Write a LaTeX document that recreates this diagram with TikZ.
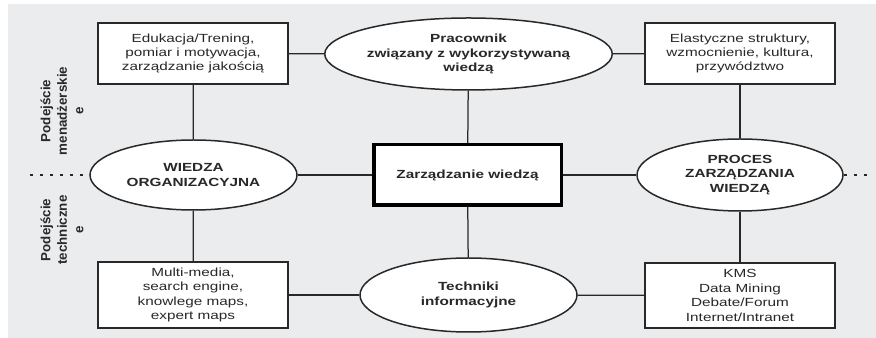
\documentclass[tikz,border=0pt]{standalone}
\usepackage{fontspec}
\setmainfont[FakeStretch=1.3]{Liberation Sans}
\newfontfamily\sidefont{Liberation Sans}
\usetikzlibrary{positioning,shapes}
\definecolor{panelgray}{RGB}{235,236,238}
\definecolor{inkgray}{RGB}{40,40,40}

\begin{document}
\begin{tikzpicture}[
        box/.style={rectangle, draw=inkgray, fill=white, line width=0.03cm, minimum width=3.8cm, align=center, inner sep=0pt, text=inkgray, font=\fontsize{6.7}{8.2}\selectfont},
        oval/.style={ellipse, draw=inkgray, fill=white, line width=0.03cm, align=center, inner sep=0pt, text=inkgray, font=\fontsize{6.7}{8.2}\selectfont\bfseries},
        link/.style={inkgray, line width=0.025cm},
        split/.style={inkgray, line width=0.025cm, dash pattern=on 0.06cm off 0.14cm},
        side/.style={rotate=90, align=center, text=inkgray, font=\sidefont\fontsize{7.6}{9.4}\selectfont\bfseries}
    ]
        \def\boxwd{3.8cm}
        \def\ovalwd{4.34cm}
        \def\ovalht{1.44cm}

        \useasboundingbox (0, 0) rectangle (17.52, 6.76);
        \fill[panelgray] (0.16, 0) rectangle (17.52, 6.68);

        % upper row
        \node[box, minimum height=1.22cm] (tl) at (3.86, 5.69) {Edukacja/Trening,\\pomiar i motywacja,\\zarządzanie jakością};
        \node[oval, minimum width=\ovalwd, minimum height=\ovalht] (worker) at (9.37, 5.68) {Pracownik\\związany z wykorzystywaną\\wiedzą};
        \node[box, minimum height=1.22cm] (tr) at (14.80, 5.69) {Elastyczne struktury,\\wzmocnienie, kultura,\\przywództwo};

        % middle row
        \node[oval, minimum width=4.14cm, minimum height=1.40cm] (orgknow) at (3.87, 3.26) {WIEDZA\\ORGANIZACYJNA};
        \node[rectangle, draw=black, fill=white, line width=0.07cm, minimum width=3.75cm, minimum height=1.21cm, text=inkgray, font=\fontsize{6.7}{8.2}\selectfont\bfseries] (km) at (9.35, 3.26) {Zarządzanie wiedzą};
        \node[oval, minimum width=4.12cm, minimum height=\ovalht] (process) at (14.80, 3.26) {PROCES\\ZARZĄDZANIA\\WIEDZĄ};

        % lower row
        \node[box, minimum height=1.32cm] (bl) at (3.86, 0.86) {Multi-media,\\search engine,\\knowlege maps,\\expert maps};
        \node[oval, minimum width=\ovalwd, minimum height=1.48cm] (infotech) at (9.37, 0.86) {Techniki\\informacyjne};
        \node[box, minimum height=1.30cm] (br) at (14.80, 0.85) {KMS\\Data Mining\\Debate/Forum\\Internet/Intranet};

        % side labels
        \node[side] (mgmt) at (1.24, 4.54) {Podejście\\menadżerskie\\e};
        \node[side] (tech) at (1.24, 2.16) {Podejście\\techniczne\\e};

        \coordinate (splitl) at (0.60, 3.26);
        \coordinate (splitr) at (17.42, 3.26);

        \draw[split] (splitl) -- (orgknow.west);
        \draw[split] (process.east) -- (splitr);

        \draw[link] (tl) -- (worker);
        \draw[link] (worker) -- (tr);
        \draw[link] (tl) -- (orgknow);
        \draw[link] (tr) -- (process);
        \draw[link] (worker) -- (km);
        \draw[link] (km) -- (infotech);
        \draw[link] (orgknow) -- (km);
        \draw[link] (km) -- (process);
        \draw[link] (orgknow) -- (bl);
        \draw[link] (process) -- (br);
        \draw[link] (bl) -- (infotech);
        \draw[link] (infotech) -- (br);
    \end{tikzpicture}
\end{document}
